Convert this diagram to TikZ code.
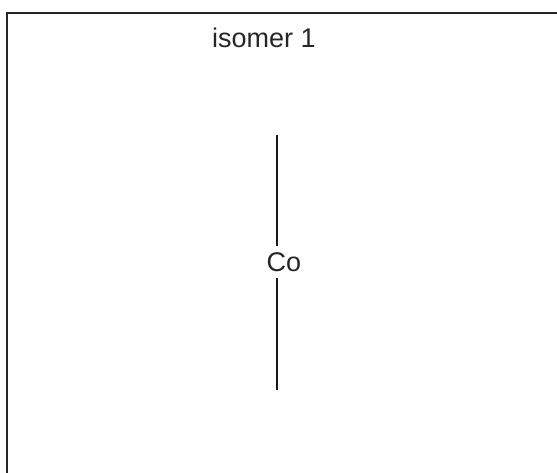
\documentclass[tikz,border=0pt]{standalone}
\usepackage{fontspec}
\setmainfont{Liberation Sans}
\begin{document}
\begin{tikzpicture}[x=1pt, y=-1pt, line width=2pt,
    label/.style={font=\fontsize{27}{32}\selectfont, text=black!85, inner sep=0pt}]
    \useasboundingbox (0,0) rectangle (557,472);
    \clip (0,0) rectangle (557,472);
    \draw[line width=1.4pt, black!85] (7,13) rectangle (600,520);
    \node[label] (title) at (264, 38) {isomer 1};
    \node[label, minimum height=30pt] (co) at (284, 262) {Co};
    \coordinate (ltop) at (277, 135);
    \coordinate (lbot) at (277, 390);
    \draw[black!90] (ltop) -- (ltop |- co.north);
    \draw[black!90] (ltop |- co.south) -- (lbot);
\end{tikzpicture}
\end{document}
